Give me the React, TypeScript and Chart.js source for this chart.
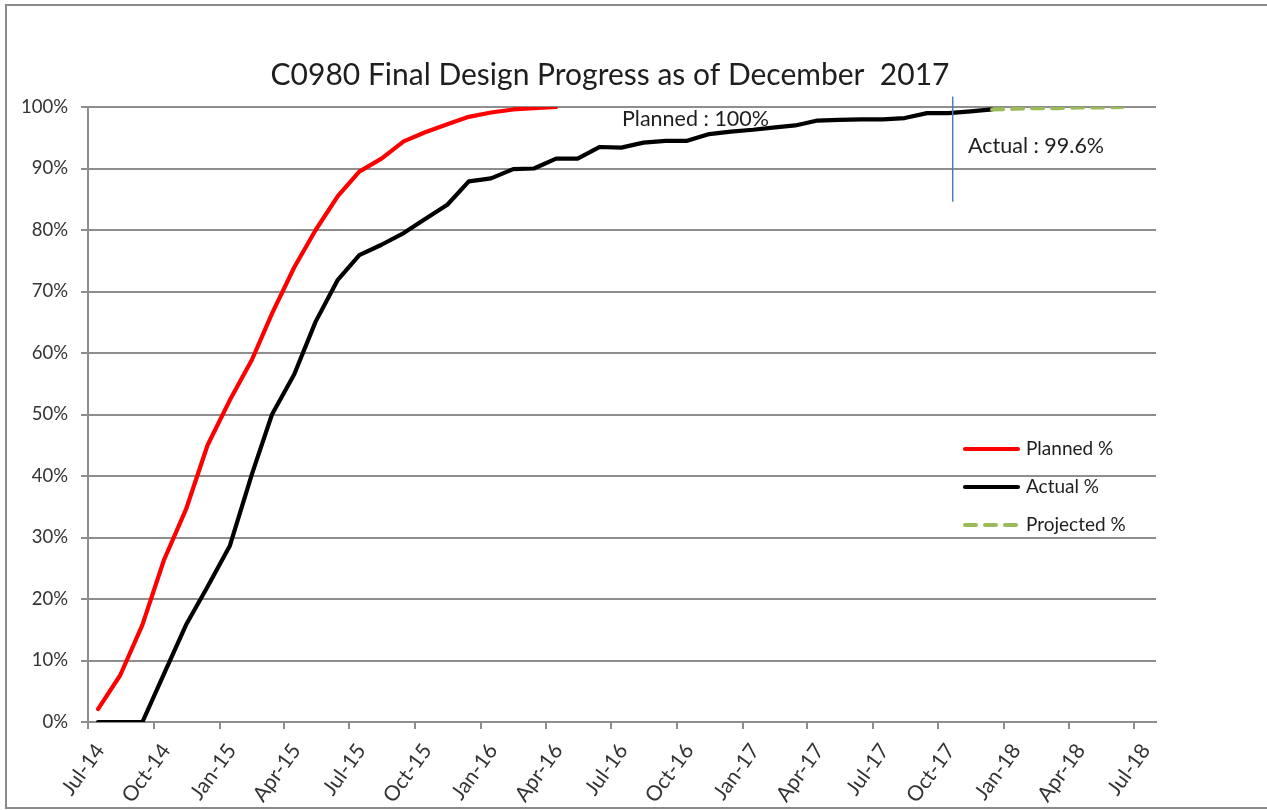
import { useEffect, useRef } from 'react';
import { Chart, registerables } from 'chart.js';

Chart.register(...registerables);

const TITLE = 'C0980 Final Design Progress as of December  2017';
const FONT = 'Lato, "Open Sans", sans-serif';

const axisStart = '2014-07-01';
const axisEnd = '2018-08-01';

const months = [
  '2014-07-15', '2014-08-15', '2014-09-15', '2014-10-15', '2014-11-15', '2014-12-15',
  '2015-01-15', '2015-02-15', '2015-03-15', '2015-04-15', '2015-05-15', '2015-06-15',
  '2015-07-15', '2015-08-15', '2015-09-15', '2015-10-15', '2015-11-15', '2015-12-15',
  '2016-01-15', '2016-02-15', '2016-03-15', '2016-04-15', '2016-05-15', '2016-06-15',
  '2016-07-15', '2016-08-15', '2016-09-15', '2016-10-15', '2016-11-15', '2016-12-15',
  '2017-01-15', '2017-02-15', '2017-03-15', '2017-04-15', '2017-05-15', '2017-06-15',
  '2017-07-15', '2017-08-15', '2017-09-15', '2017-10-15', '2017-11-15', '2017-12-15',
  '2018-01-15', '2018-02-15', '2018-03-15', '2018-04-15', '2018-05-15', '2018-06-15',
];

const tickDates = [
  '2014-07-01', '2014-10-01', '2015-01-01', '2015-04-01', '2015-07-01', '2015-10-01',
  '2016-01-01', '2016-04-01', '2016-07-01', '2016-10-01', '2017-01-01', '2017-04-01',
  '2017-07-01', '2017-10-01', '2018-01-01', '2018-04-01', '2018-07-01',
];
const tickLabels = [
  'Jul-14', 'Oct-14', 'Jan-15', 'Apr-15', 'Jul-15', 'Oct-15',
  'Jan-16', 'Apr-16', 'Jul-16', 'Oct-16', 'Jan-17', 'Apr-17',
  'Jul-17', 'Oct-17', 'Jan-18', 'Apr-18', 'Jul-18',
];

const plannedPct = [
  2.1, 7.6, 15.8, 26.3, 34.6, 45.0, 52.3, 58.9, 66.4, 73.9, 80.0,
  85.5, 89.5, 91.6, 94.4, 95.9, 97.2, 98.4, 99.1, 99.6, 99.8, 100,
];

const actualPct = [
  0, 0, 0, 7.8, 15.8, 22.0, 28.6, 40.3, 50.0, 56.5, 65.1,
  71.9, 75.9, 77.6, 79.5, 81.8, 84.1, 87.9, 88.4, 89.9, 90.0,
  91.6, 91.6, 93.5, 93.4, 94.2, 94.5, 94.5, 95.6, 96.0, 96.3,
  96.7, 97.0, 97.8, 97.9, 98.0, 98.0, 98.2, 99.0, 99.0, 99.3, 99.6,
];

const projectedStart = 41;
const projectedPct = [99.6, 99.7, 99.8, 99.8, 99.9, 99.9, 100];

const statusDate = '2017-10-21';
const statusLineRange = [101.7, 84.6];

const plannedNote = 'Planned : 100%';
const actualNote = 'Actual : 99.6%';

const DAY_MS = 86400000;
const dayNum = (s: string) => (Date.parse(s) - Date.parse(axisStart)) / DAY_MS;

const GRID = '#8e8e8e';
const TEXT = '#1e1e1e';
const TICK_TEXT = '#333333';

const decorPlugin = {
  id: 'decor',
  beforeDraw(chart: any) {
    const ctx = chart.ctx;
    ctx.save();
    ctx.fillStyle = '#ffffff';
    ctx.fillRect(0, 0, chart.width, chart.height);
    ctx.strokeStyle = '#8a8a8a';
    ctx.lineWidth = 2;
    ctx.strokeRect(6, 5, chart.width + 40, 803);
    ctx.restore();
  },
  afterDraw(chart: any) {
    const ctx = chart.ctx;
    const x = chart.scales.x;
    const y = chart.scales.y;
    ctx.save();
    // title
    ctx.font = `30px ${FONT}`;
    ctx.fillStyle = TEXT;
    ctx.textAlign = 'center';
    ctx.textBaseline = 'alphabetic';
    ctx.fillText(TITLE, 610, 85);

    // status date line
    const sx = x.getPixelForValue(dayNum(statusDate));
    ctx.strokeStyle = '#4a7ebb';
    ctx.lineWidth = 1.5;
    ctx.beginPath();
    ctx.moveTo(sx, y.getPixelForValue(statusLineRange[0]));
    ctx.lineTo(sx, y.getPixelForValue(statusLineRange[1]));
    ctx.stroke();

    // notes
    ctx.font = `21.5px ${FONT}`;
    ctx.textAlign = 'left';
    ctx.fillStyle = TEXT;
    ctx.fillText(plannedNote, 622, 126);
    ctx.fillText(actualNote, 968, 153);

    // legend
    chart.data.datasets.forEach((ds: any, i: number) => {
      const ly = 449 + i * 38;
      ctx.strokeStyle = ds.borderColor;
      ctx.lineWidth = ds.borderWidth;
      ctx.lineCap = 'round';
      ctx.setLineDash(ds.borderDash || []);
      ctx.beginPath();
      ctx.moveTo(965, ly);
      ctx.lineTo(1018, ly);
      ctx.stroke();
      ctx.setLineDash([]);
      ctx.font = `19px ${FONT}`;
      ctx.textBaseline = 'middle';
      ctx.fillStyle = TEXT;
      ctx.fillText(ds.label, 1026, ly);
    });
    ctx.restore();
  },
};

export default function App() {
  const ref = useRef<HTMLCanvasElement>(null);

  useEffect(() => {
    const lineCommon = {
      pointRadius: 0,
      pointHoverRadius: 0,
      tension: 0,
      borderJoinStyle: 'round' as const,
      borderCapStyle: 'round' as const,
      fill: false,
    };
    const chart = new Chart(ref.current!, {
      type: 'line',
      data: {
        datasets: [
          {
            ...lineCommon,
            label: 'Planned %',
            data: plannedPct.map((v, i) => ({ x: dayNum(months[i]), y: v })),
            borderColor: '#ff0000',
            borderWidth: 4.2,
            order: 2,
          },
          {
            ...lineCommon,
            label: 'Actual %',
            data: actualPct.map((v, i) => ({ x: dayNum(months[i]), y: v })),
            borderColor: '#000000',
            borderWidth: 4.2,
            order: 1,
          },
          {
            ...lineCommon,
            label: 'Projected %',
            data: projectedPct.map((v, i) => ({ x: dayNum(months[projectedStart + i]), y: v })),
            borderColor: '#9bbb59',
            borderWidth: 4,
            borderDash: [11, 9],
            order: 0,
          },
        ],
      },
      options: {
        responsive: false,
        animation: false,
        events: [],
        layout: { padding: { top: 107, right: 111, bottom: 0, left: 0 } },
        plugins: {
          legend: { display: false },
          tooltip: { enabled: false },
          title: { display: false },
        },
        scales: {
          x: {
            type: 'linear',
            min: 0,
            max: dayNum(axisEnd),
            afterBuildTicks: (scale: any) => {
              scale.ticks = tickDates.map((d) => ({ value: dayNum(d) }));
            },
            afterFit: (scale: any) => {
              scale.height = 88;
            },
            ticks: {
              autoSkip: false,
              minRotation: 54,
              maxRotation: 54,
              padding: 10,
              labelOffset: 12,
              color: TICK_TEXT,
              font: { family: FONT, size: 21 },
              callback: (_v: any, index: number) => tickLabels[index],
            },
            grid: {
              drawOnChartArea: false,
              drawTicks: true,
              tickLength: 7,
              color: GRID,
              lineWidth: 2,
            },
            border: { display: true, color: GRID, width: 2 },
          },
          y: {
            min: 0,
            max: 100,
            afterFit: (scale: any) => {
              scale.width = 88;
            },
            ticks: {
              stepSize: 10,
              padding: 13,
              color: TICK_TEXT,
              font: { family: FONT, size: 18.5 },
              callback: (v: any) => `${v}%`,
            },
            grid: {
              drawTicks: true,
              tickLength: 7,
              color: GRID,
              lineWidth: 2,
            },
            border: { display: true, color: GRID, width: 2 },
          },
        },
      },
      plugins: [decorPlugin],
    } as any);
    return () => chart.destroy();
  }, []);

  return (
    <div style={{ position: 'absolute', left: 0, top: 0, width: 1267, height: 810, background: '#fff' }}>
      <canvas ref={ref} width={1267} height={810} style={{ display: 'block', width: 1267, height: 810 }} />
    </div>
  );
}
